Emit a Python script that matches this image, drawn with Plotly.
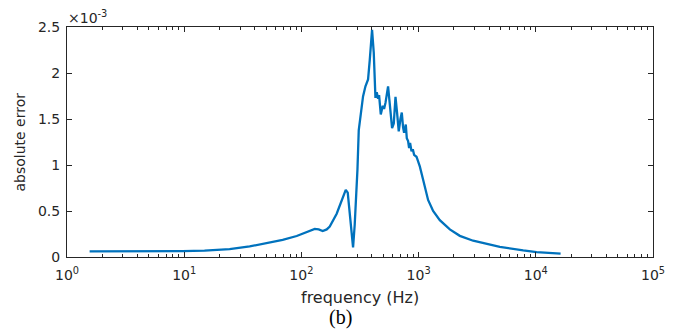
import plotly.graph_objects as go
import numpy as np

# frequency (Hz) and absolute error (in units of 1e-3)
freq_hz = [1.56, 2.81, 5.06, 9.69, 14.9, 24.4, 36.2, 53.6, 69.2, 91.2, 111, 130, 140.5, 152,
           164.5, 174.5, 200, 221, 239, 248.5, 261, 276, 285, 295, 300.8, 308.6, 320.9, 335.7,
           352, 370.5, 383, 400.8, 414.4, 428.5, 439.5, 451, 460, 475.6, 494.7, 507.5, 521.6,
           535, 549, 564, 579, 594, 614, 635, 655, 677, 700, 718.7, 737, 752, 777.6, 793,
           813.6, 829.8, 846, 869.9, 892.4, 915.5, 959.6, 1024, 1093, 1168, 1205, 1330, 1517,
           1847, 2248, 2920, 4055, 4935, 7806, 10160, 16280]
abs_err_e3 = [0.061, 0.061, 0.062, 0.064, 0.070, 0.085, 0.115, 0.155, 0.185, 0.228, 0.272, 0.305,
              0.300, 0.283, 0.300, 0.330, 0.470, 0.620, 0.730, 0.700, 0.420, 0.105, 0.350, 0.700,
              0.950, 1.380, 1.560, 1.745, 1.855, 1.930, 2.140, 2.470, 2.220, 1.730, 1.790, 1.720,
              1.760, 1.550, 1.645, 1.610, 1.675, 1.745, 1.855, 1.700, 1.490, 1.400, 1.450, 1.740,
              1.570, 1.365, 1.500, 1.570, 1.410, 1.350, 1.440, 1.290, 1.260, 1.185, 1.240, 1.150,
              1.170, 1.110, 1.090, 0.985, 0.840, 0.700, 0.620, 0.500, 0.400, 0.300, 0.230, 0.177,
              0.134, 0.109, 0.072, 0.054, 0.036]

x_tick_vals = [1, 10, 100, 1000, 10000, 100000]
x_tick_text = ["10<sup>0</sup>", "10<sup>1</sup>", "10<sup>2</sup>", "10<sup>3</sup>",
               "10<sup>4</sup>", "10<sup>5</sup>"]
y_tick_vals_e3 = [0, 0.5, 1, 1.5, 2, 2.5]
y_tick_text = ["0", "0.5", "1", "1.5", "2", "2.5"]

abs_err = np.array(abs_err_e3) * 1e-3
minor_vals = [k * 10 ** d for d in range(0, 5) for k in range(2, 10)]

AX = "#262626"
FONT = "DejaVu Sans"

fig = go.Figure()
fig.add_trace(go.Scatter(x=freq_hz, y=abs_err, mode="lines",
                         line=dict(color="#0072BD", width=2.3), showlegend=False))

fig.update_layout(
    width=683, height=335,
    margin=dict(l=67, r=30, t=27, b=78),
    paper_bgcolor="white", plot_bgcolor="white",
    font=dict(family=FONT, size=14, color=AX),
)
fig.update_xaxes(
    type="log", range=[0, 5],
    tickmode="array", tickvals=x_tick_vals, ticktext=x_tick_text,
    ticks="inside", ticklen=5, tickwidth=1, tickcolor=AX,
    minor=dict(tickmode="array", tickvals=minor_vals, ticks="inside", ticklen=3,
               tickwidth=1, tickcolor=AX, showgrid=False),
    showline=True, linecolor=AX, linewidth=1, mirror="allticks",
    showgrid=False, zeroline=False, ticklabelstandoff=5,
    tickfont=dict(family=FONT, size=14, color=AX),
)
fig.update_yaxes(
    range=[0, 2.5e-3],
    tickmode="array", tickvals=[v * 1e-3 for v in y_tick_vals_e3], ticktext=y_tick_text,
    ticks="inside", ticklen=5, tickwidth=1, tickcolor=AX,
    showline=True, linecolor=AX, linewidth=1, mirror="allticks",
    showgrid=False, zeroline=False, ticklabelstandoff=3,
    tickfont=dict(family=FONT, size=14, color=AX),
)

fig.add_annotation(text="frequency (Hz)", xref="paper", yref="paper", x=0.5, y=-0.175,
                   xanchor="center", yanchor="middle", showarrow=False,
                   font=dict(family=FONT, size=16, color=AX))
fig.add_annotation(text="absolute error", xref="paper", yref="paper", x=-0.081, y=0.5,
                   xanchor="center", yanchor="middle", textangle=-90, showarrow=False,
                   font=dict(family=FONT, size=14, color=AX))
fig.add_annotation(text="×10<sup>-3</sup>", xref="paper", yref="paper", x=0, y=1,
                   xanchor="left", yanchor="bottom", showarrow=False, xshift=-1, yshift=-1,
                   font=dict(family=FONT, size=14, color=AX))
fig.add_annotation(text="(b)", xref="paper", yref="paper", x=0.5, y=-0.265,
                   xanchor="center", yanchor="middle", showarrow=False, xshift=-20,
                   font=dict(family="Liberation Serif", size=20, color="black"))

fig.write_html("out.html")
